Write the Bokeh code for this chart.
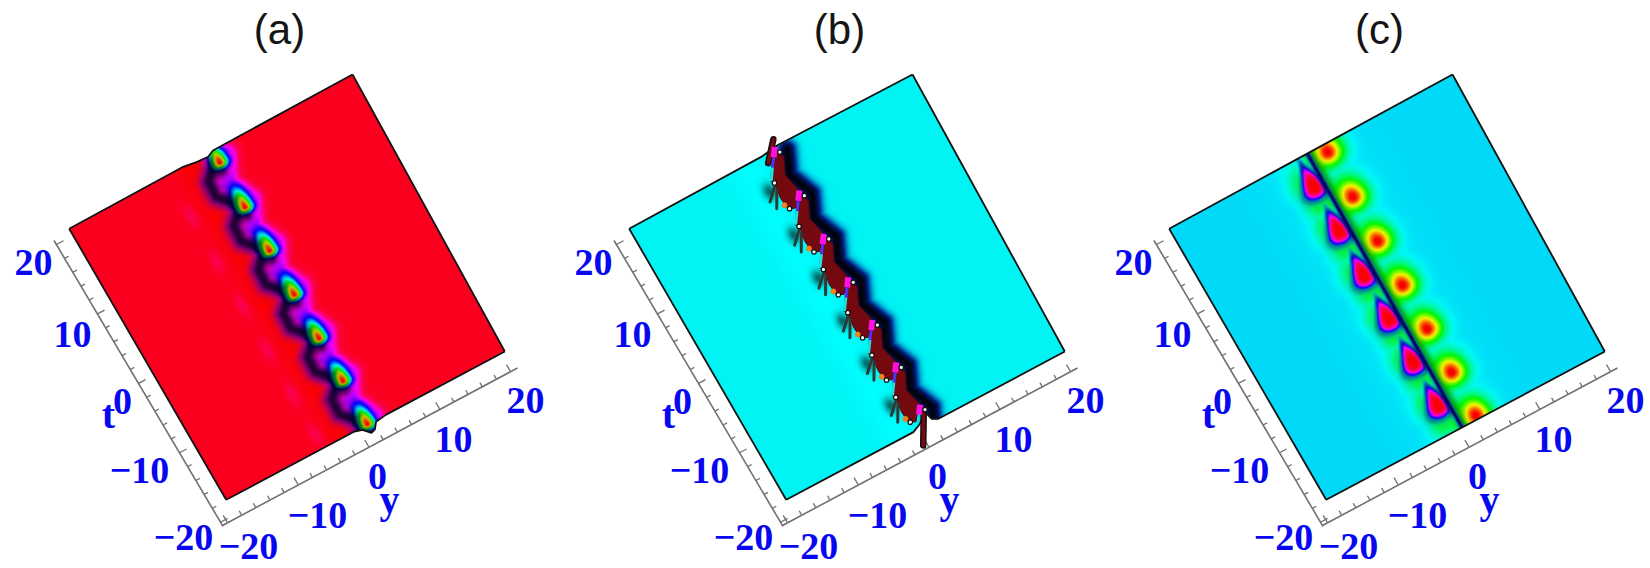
import numpy as np
from bokeh.core.properties import value
from bokeh.embed import file_html
from bokeh.models import Range1d
from bokeh.plotting import figure
from bokeh.resources import INLINE

# ---------- values (y, t are the plot's own units) ----------
titles = ["(a)", "(b)", "(c)"]
tick_values = [-20, -10, 0, 10, 20]
minor_values = list(range(-20, 21, 2))
t_tick_labels = ["20", "10", "0", "\u221210", "\u221220"]
y_tick_labels = ["\u221220", "\u221210", "0", "10", "20"]

a_blob_y = 0.4
a_blob_t = [18.2, 11.8, 5.5, -0.9, -7.3, -13.6, -20.0]
a_faint_y = -6.0
a_faint_t = [14.0, 7.5, 1.0, -5.5, -12.0, -18.0]
a_magenta_dy = [1.4, 0.3, -0.5, 0.5, 1.4]
a_magenta_dt = [0.6, -1.7, -2.6, -4.1, -5.8]
a_dark_dy = [-0.8, -2.4, -2.5, -1.3, -0.8]
a_dark_dt = [0.2, -1.4, -3.5, -4.9, -6.2]
a_top_y = [-20, -4, -2, -0.5, 0.4, 20]
a_top_t = [20, 20, 19.7, 19.6, 20.0, 20]
a_bot_y = [-20, -1.5, -0.5, 0.3, 0.9, 1.5, 3, 20]
a_bot_t = [-20, -20, -20.3, -21.2, -21.0, -20.2, -20, -20]

b_pink_y = 0.7
b_pink_t = [20.1, 13.85, 7.6, 1.3, -4.95, -11.2, -17.45]
b_maroon_dy = [-0.29, 0.5, -0.5, 0.05, -1.4, -2.25, -2.4, -2.1, -2.45]
b_maroon_dt = [-0.09, -1.40, -3.54, -5.80, -7.77, -7.37, -5.84, -3.57, -3.37]
b_shadow_dy = [1.3, 0.0, 1.3]
b_shadow_dt = [-0.79, -3.76, -7.05]
b_streak_dy = [0.11, -0.64, -1.39, -2.38]
b_streak_dt = [0.19, -0.88, -1.94, -3.37]
b_streak_colors = ["#ff10e0", "#5030ff", "#20e0e0"]
b_white_dy = [0.34, -2.12, -2.06]
b_white_dt = [-0.68, -3.75, -7.47]
b_orange_dy = [-2.4]
b_orange_dt = [-6.8]
b_spike_y0 = [-2.15, -2.29]
b_spike_t0 = [-3.98, -4.64]
b_spike_y1 = [-3.76, -3.45]
b_spike_t1 = [-5.56, -6.71]
b_glow_dy = -3.2
b_glow_dt = -4.39
b_top_bar_y = [1.12, -0.89]
b_top_bar_t = [21.2, 18.9]
b_end_bar_y = [0.62, -1.39]
b_end_bar_t = [-18.57, -22.13]
b_top_y = [-20, -1.2, 1.2, 20]
b_top_t = [20, 20, 20.3, 20]
b_bot_y = [-20, -1.64, -0.5, 0.9, 1.2, 1.95, 20]
b_bot_t = [-20, -20, -19.5, -18.4, -19.6, -20, -20]

c_line_y = -0.4
c_right_y = 1.85
c_right_t = [18.9, 12.5, 6.1, -0.3, -6.7, -13.1, -19.5]
c_left_y = -1.7
c_left_t = [15.9, 9.5, 3.1, -3.3, -9.7, -16.1]
c_top_y = [-20, 20]
c_top_t = [20, 20]
c_bot_y = [-20, 20]
c_bot_t = [-20, -20]

# ---------- layout ----------
W, H = 1650, 568
panel_dx = [0, 560, 1100]
corner_src = np.array([[-20, -20], [20, -20], [20, 20], [-20, 20]], float)
corner_px = np.array([[225.7, 499.3], [504.3, 351.0], [352.0, 74.0], [68.7, 228.3]])
y_axis_px = ((226.7, 521.7), (510.0, 371.0))
t_axis_px = ((220.0, 521.7), (56.0, 244.0))
y_axis_end = ((221.5, 525.3), (517.0, 367.5))
t_axis_end = ((222.5, 525.9), (53.5, 240.0))
t_label_px = [(33, 262), (72, 334), (122, 401), (139, 470), (183, 537)]
y_label_px = [(248, 546), (317, 515), (377, 476), (453, 439), (525, 400)]
t_name_px = (108, 414)
y_name_px = (389, 499)
title_px = (279, 29)
label_size = "38px"
ink = "#0808f0"


def homography(src, dst):
    rows, rhs = [], []
    for (x, y), (u, v) in zip(src, dst):
        rows.append([x, y, 1, 0, 0, 0, -u * x, -u * y]); rhs.append(u)
        rows.append([0, 0, 0, x, y, 1, -v * x, -v * y]); rhs.append(v)
    return np.append(np.linalg.solve(np.array(rows), np.array(rhs)), 1).reshape(3, 3)


HM = homography(corner_src, corner_px)
HI = np.linalg.inv(HM)


def proj(y, t, dx):
    y, t = np.asarray(y, float), np.asarray(t, float)
    w = HM[2, 0] * y + HM[2, 1] * t + HM[2, 2]
    px = (HM[0, 0] * y + HM[0, 1] * t + HM[0, 2]) / w + dx
    py = (HM[1, 0] * y + HM[1, 1] * t + HM[1, 2]) / w
    return px, 568 - py


def unproj(px, py):
    w = HI[2, 0] * px + HI[2, 1] * py + HI[2, 2]
    return (HI[0, 0] * px + HI[0, 1] * py + HI[0, 2]) / w, (HI[1, 0] * px + HI[1, 1] * py + HI[1, 2]) / w


def hsv(h, s, v):
    h = np.mod(h, 1.0) * 6
    i = np.floor(h).astype(int) % 6
    f = h - np.floor(h)
    p, q, r = v * (1 - s), v * (1 - f * s), v * (1 - (1 - f) * s)
    R = np.choose(i, [v, q, p, p, r, v])
    G = np.choose(i, [r, v, v, q, p, p])
    B = np.choose(i, [p, p, r, v, v, q])
    return R, G, B


def seg_dist(Y, T, ys, ts):
    best = np.full(Y.shape, 1e9)
    for k in range(len(ys) - 1):
        ax, ay, bx, by = ys[k], ts[k], ys[k + 1], ts[k + 1]
        vx, vy = bx - ax, by - ay
        u = np.clip(((Y - ax) * vx + (T - ay) * vy) / max(vx * vx + vy * vy, 1e-9), 0, 1)
        best = np.minimum(best, np.hypot(Y - ax - u * vx, T - ay - u * vy))
    return best


def chain(y0, ts, dys, dts):
    ys, tt = [], []
    for t0 in ts:
        ys += [y0 + d for d in dys]
        tt += [t0 + d for d in dts]
    return ys, tt


def g2(Y, T, y0, t0, sy, st):
    return np.exp(-0.5 * (((Y - y0) / sy) ** 2 + ((T - t0) / st) ** 2))


def field_a(Y, T):
    h = 0.98 + 0.02 * np.exp(-((Y + 3) / 1.6) ** 2)
    v = 0.985 + 0 * Y
    for t0 in a_faint_t:
        h = h - 0.035 * g2(Y, T, a_faint_y, t0, 0.5, 1.1)
    my, mt = chain(a_blob_y, a_blob_t, a_magenta_dy, a_magenta_dt)
    dy, dt = chain(a_blob_y, a_blob_t, a_dark_dy, a_dark_dt)
    wm = np.clip(1.35 * np.exp(-(seg_dist(Y, T, my, mt) / 1.1) ** 2), 0, 1)
    wd = np.exp(-(seg_dist(Y, T, dy, dt) / 1.05) ** 2)
    h = h * (1 - wm) + 0.835 * wm
    h = h * (1 - 0.85 * wd) + 0.74 * 0.85 * wd
    v = v * (1 - 0.8 * wd)
    s = np.zeros_like(Y)
    for t0 in a_blob_t:
        st = np.where(T > t0, 1.75, 0.5)
        s = np.maximum(s, np.exp(-0.5 * (((Y - a_blob_y) / 0.72) ** 2 + ((T - t0) / st) ** 2)))
        v = v * (1 - 0.6 * g2(Y, T, a_blob_y - 0.3, t0 - 1.15, 0.5, 0.42))
    hh = h * (1 - s)
    v = np.maximum(v, s * 0.95)
    return hh, np.ones_like(Y), np.clip(v, 0, 1)


def field_b(Y, T):
    h = 0.5 + 0.0 * Y
    v = 0.96 + 0.04 * np.exp(-((Y + 3.5) / 2.5) ** 2)
    sy, st = chain(b_pink_y, b_pink_t, b_shadow_dy, b_shadow_dt)
    d = seg_dist(Y, T, sy, st)
    w = np.exp(-(d / 1.0) ** 2)
    h = h + 0.13 * np.clip(w * 1.8, 0, 1)
    v = v * (1 - 0.95 * w)
    for t0 in b_pink_t:
        v = v * (1 - 0.6 * g2(Y, T, b_pink_y + b_glow_dy, t0 + b_glow_dt, 0.55, 0.75))
    return h, np.ones_like(Y), np.clip(v, 0, 1)


def field_c(Y, T):
    h = 0.52 - 0.018 * np.exp(-((Y - c_line_y) / 6.0) ** 2) + 0 * Y
    v = 0.985 + 0 * Y
    hal = np.zeros_like(Y)
    for t0 in c_left_t:
        hal = np.maximum(hal, g2(Y, T, c_left_y - 0.6, t0 - 0.4, 1.15, 1.85))
    h = h - 0.2 * np.clip(hal * 1.8, 0, 1)
    h = h - 0.17 * np.exp(-((Y - c_line_y) / 0.85) ** 2)
    rg = np.zeros_like(Y)
    for t0 in c_right_t:
        dt = T - t0
        sy_ = np.where(Y > c_right_y, 1.3, 1.15)
        st_ = np.where(dt > 0, 1.6, 1.15)
        rg = np.maximum(rg, np.exp(-0.5 * (((Y - c_right_y) / sy_) ** 2 + (dt / st_) ** 2)))
    base = np.clip(h, 0.0, 1.0)
    h = base - base * np.clip(rg * 1.03, 0, 1)
    s_l = np.zeros_like(Y)
    for t0 in c_left_t:
        dt = T - t0
        sy_ = np.clip(0.95 - 0.2 * dt, 0.3, 1.35)
        st_ = np.where(dt > 0, 1.8, 1.0)
        s_l = np.maximum(s_l, np.exp(-0.5 * (((Y - c_left_y) / sy_) ** 2 + (dt / st_) ** 2)))
    s_l = s_l * (1 / (1 + np.exp((Y - (c_line_y - 0.28)) / 0.09)))
    sp = np.clip(1.75 * s_l, 0, 1) ** 0.62
    tone = np.interp(s_l, [0.0, 0.18, 0.36, 0.62, 0.9], [0.66, 0.7, 0.85, 0.93, 1.0])
    h = h * (1 - sp) + sp * tone
    v = v * (1 - 0.4 * np.exp(-((s_l - 0.18) / 0.1) ** 2))
    b = np.exp(-((Y - c_line_y) / 0.38) ** 2)
    h = h * (1 - b) + 0.68 * b
    v = v * (1 - 0.52 * b) * (1 - 0.28 * np.exp(-((Y - c_line_y - 0.4) / 0.6) ** 2))
    return h, np.ones_like(Y), np.clip(v, 0, 1)


def surface_image(field, top_y, top_t, bot_y, bot_t, dx):
    x0, x1, y0, y1 = 55, 520, 62, 510
    xs = np.arange(x0, x1) + 0.5
    ys = np.arange(y0, y1) + 0.5
    PX, PY = np.meshgrid(xs, ys)
    Y, T = unproj(PX, PY)
    R, G, B = hsv(*field(Y, T))
    m = np.minimum.reduce([
        np.interp(Y, top_y, top_t) - T,
        T - np.interp(Y, bot_y, bot_t),
        Y + 20,
        20 - Y,
    ])
    alpha = np.clip(m * 7 + 0.5, 0, 1)
    img = np.zeros(Y.shape + (4,), dtype=np.uint8)
    img[..., 0] = (R * 255).astype(np.uint8)
    img[..., 1] = (G * 255).astype(np.uint8)
    img[..., 2] = (B * 255).astype(np.uint8)
    img[..., 3] = (alpha * 255).astype(np.uint8)
    packed = img.view(np.uint32).reshape(Y.shape)[::-1]
    return packed, x0 + dx, 568 - y1, x1 - x0, y1 - y0


p = figure(width=W, height=H, x_range=Range1d(0, W), y_range=Range1d(0, H),
           output_backend="svg", toolbar_location=None, min_border=0,
           x_axis_location=None, y_axis_location=None, outline_line_color=None,
           background_fill_color="white", border_fill_color="white")
p.grid.visible = False

panels = [
    (field_a, a_top_y, a_top_t, a_bot_y, a_bot_t),
    (field_b, b_top_y, b_top_t, b_bot_y, b_bot_t),
    (field_c, c_top_y, c_top_t, c_bot_y, c_bot_t),
]

for k, (fld, ty, tt, by, bt) in enumerate(panels):
    dx = panel_dx[k]
    im, ix, iy, dw, dh = surface_image(fld, ty, tt, by, bt, dx)
    p.image_rgba(image=[im], x=ix, y=iy, dw=dw, dh=dh)

    # surface outline
    ox, oy = proj(np.array(ty, float), np.array(tt, float), dx)
    p.line(ox, oy, line_color="#101010", line_width=1.8)
    ox, oy = proj(np.array(by, float), np.array(bt, float), dx)
    p.line(ox, oy, line_color="#101010", line_width=1.8)
    for yy in (-20, 20):
        t_lo = bt[0] if yy == -20 else bt[-1]
        ox, oy = proj([yy, yy], [t_lo, 20], dx)
        p.line(ox, oy, line_color="#101010", line_width=1.8)

    # axes
    for (a, b), pair, vals in ((y_axis_px, (-0.5, -0.86), minor_values), (t_axis_px, (0.88, -0.47), minor_values)):
        for val in vals:
            f = (val + 20) / 40
            bx = a[0] + (b[0] - a[0]) * f + dx
            bb = a[1] + (b[1] - a[1]) * f
            ln = 8 if val in tick_values else 4.5
            p.line([bx, bx + pair[0] * ln], [568 - bb, 568 - (bb + pair[1] * ln)],
                   line_color="#707070", line_width=1.3)
    for e in (y_axis_end, t_axis_end):
        p.line([e[0][0] + dx, e[1][0] + dx], [568 - e[0][1], 568 - e[1][1]],
               line_color="#707070", line_width=1.6)

    # labels
    labels = t_tick_labels + y_tick_labels
    spots = t_label_px + y_label_px
    p.text([s[0] + dx for s in spots], [568 - s[1] for s in spots], text=labels,
           text_font=value("Liberation Serif"), text_font_style="bold", text_font_size=label_size,
           text_color=ink, text_align="center", text_baseline="middle")
    p.text([t_name_px[0] + dx, y_name_px[0] + dx], [568 - t_name_px[1], 568 - y_name_px[1]], text=["t", "y"],
           text_font=value("Liberation Serif"), text_font_style="bold", text_font_size="40px",
           text_color=ink, text_align="center", text_baseline="middle")
    p.text([title_px[0] + dx], [568 - title_px[1]], text=[titles[k]],
           text_font=value("Liberation Sans"), text_font_size="42px",
           text_color="#151515", text_align="center", text_baseline="middle")

# panel (b): the wave's crest drawn over its surface
dxb = panel_dx[1]
xs, ys = [], []
for t0 in b_pink_t[:-1]:
    ox, oy = proj(b_pink_y + np.array(b_maroon_dy), t0 + np.array(b_maroon_dt), dxb)
    xs.append(list(ox)); ys.append(list(oy))
p.patches(xs, ys, fill_color="#740a10", line_color="#5a0508", line_width=1)

for y_b, t_b in ((b_top_bar_y, b_top_bar_t), (b_end_bar_y, b_end_bar_t)):
    ox, oy = proj(y_b, t_b, dxb)
    p.line(ox, oy, line_color="#101010", line_width=6.5, line_cap="round")
    p.line(ox, oy, line_color="#7a0a12", line_width=3.5, line_cap="round")

for idx, t0 in enumerate(b_pink_t):
    n_parts = len(b_streak_colors) if idx < len(b_pink_t) - 1 else 1
    for j in range(n_parts):
        ox, oy = proj(b_pink_y + np.array(b_streak_dy[j:j + 2]), t0 + np.array(b_streak_dt[j:j + 2]), dxb)
        p.line(ox, oy, line_color=b_streak_colors[j], line_width=6 if j == 0 else 2.8)
    ox, oy = proj(b_pink_y + np.array(b_white_dy[:1]), t0 + np.array(b_white_dt[:1]), dxb)
    p.scatter(ox, oy, size=4.5, fill_color="#f4f4f4", line_color="#101010", line_width=1.2)
    if idx == len(b_pink_t) - 1:
        continue
    for a0, b0, a1, b1 in zip(b_spike_y0, b_spike_t0, b_spike_y1, b_spike_t1):
        ox, oy = proj([b_pink_y + a0, b_pink_y + a1], [t0 + b0, t0 + b1], dxb)
        p.line(ox, oy, line_color="#2c3a34", line_width=3, line_cap="round")
    ox, oy = proj(b_pink_y + np.array(b_orange_dy), t0 + np.array(b_orange_dt), dxb)
    p.scatter(ox, oy, size=5, color="#f08020")
    ox, oy = proj(b_pink_y + np.array(b_white_dy[1:]), t0 + np.array(b_white_dt[1:]), dxb)
    p.scatter(ox, oy, size=4.5, fill_color="#f4f4f4", line_color="#101010", line_width=1.2)

open("out.html", "w").write(file_html(p, INLINE))
